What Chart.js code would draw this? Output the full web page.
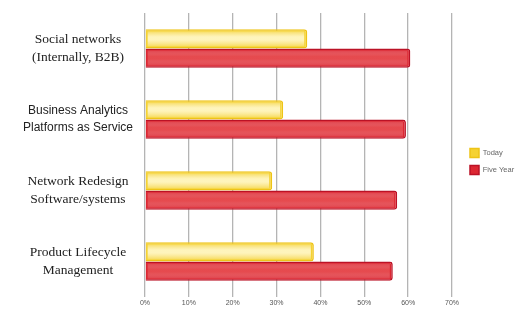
<!DOCTYPE html>
<html>
<head>
<meta charset="utf-8">
<script src="https://cdn.jsdelivr.net/npm/chart.js@4.4.1/dist/chart.umd.min.js"></script>
<style>
  html, body { margin: 0; padding: 0; background: #fff; }
  #wrap { width: 528px; height: 310px; }
</style>
</head>
<body>
<div id="wrap"><canvas id="myChart"></canvas></div>
<script>
// data
const categories = [
  ["Social networks", "(Internally, B2B)"],
  ["Business Analytics", "Platforms as Service"],
  ["Network Redesign", "Software/systems"],
  ["Product Lifecycle", "Management"],
];
const todayValues = [37, 31.5, 29, 38.5];
const fiveYearValues = [60.5, 59.5, 57.5, 56.5];
const xTicks = [0, 10, 20, 30, 40, 50, 60, 70];

// label fonts differ per row in the original
const labelFonts = ["Liberation Serif", "Liberation Sans", "Liberation Serif", "Liberation Serif"];

// glossy stripe on each bar
const glossPlugin = {
  id: "gloss",
  afterDatasetsDraw(chart) {
    const ctx = chart.ctx;
    chart.data.datasets.forEach((ds, di) => {
      const meta = chart.getDatasetMeta(di);
      meta.data.forEach((bar) => {
        const top = bar.y - bar.height / 2;
        const h = bar.height;
        const g = ctx.createLinearGradient(0, top, 0, top + h);
        g.addColorStop(0, "rgba(255,255,255,0)");
        g.addColorStop(0.4, ds.glossColor);
        g.addColorStop(0.55, ds.glossColor);
        g.addColorStop(1, "rgba(255,255,255,0)");
        ctx.save();
        ctx.fillStyle = g;
        ctx.fillRect(bar.base + 2, top + 2, bar.x - bar.base - 5, h - 4);
        ctx.restore();
      });
    });
  },
};

// legend box is wider than its items in the original (text runs off the edge)
const legendWidthPlugin = {
  id: "legendWidth",
  beforeLayout(chart) {
    const lg = chart.legend;
    if (lg && !lg._wide) {
      const fit = lg.fit;
      const draw = lg.draw;
      lg.fit = function () { fit.call(this); this.width = 76; };
      lg.draw = function () {
        chart.ctx.save();
        chart.ctx.translate(10, 0);
        draw.call(this);
        chart.ctx.restore();
      };
      lg._wide = true;
    }
  },
};

let myChart = document.getElementById("myChart").getContext("2d");

new Chart(myChart, {
  type: "bar",
  data: {
    labels: categories,
    datasets: [
      {
        label: "Today",
        data: todayValues,
        backgroundColor: "#f5d232",
        borderColor: "#eec417",
        glossColor: "rgba(255,246,195,0.95)",
        borderWidth: 1.5,
        borderRadius: 3,
        borderSkipped: "left",
        barPercentage: 1,
        categoryPercentage: 0.54,
      },
      {
        label: "Five Year",
        data: fiveYearValues,
        backgroundColor: "#dc2732",
        borderColor: "#bb1226",
        glossColor: "rgba(236,98,98,0.6)",
        borderWidth: 1.5,
        borderRadius: 3,
        borderSkipped: "left",
        barPercentage: 1,
        categoryPercentage: 0.54,
      },
    ],
  },
  options: {
    indexAxis: "y",
    responsive: true,
    maintainAspectRatio: false,
    animation: false,
    layout: { padding: { top: 13, right: 0, left: 0, bottom: 0 } },
    plugins: {
      legend: {
        position: "right",
        labels: {
          boxWidth: 9,
          boxHeight: 9,
          padding: 8,
          color: "#666",
          font: { family: "Liberation Sans", size: 7.5 },
        },
      },
      tooltip: { enabled: false },
    },
    scales: {
      x: {
        min: 0,
        max: 70,
        afterBuildTicks: (s) => { s.ticks = xTicks.map((v) => ({ value: v })); },
        afterFit: (s) => { s.height = 13; },
        ticks: {
          callback: (v) => v + "%",
          color: "#555",
          font: { family: "Liberation Sans", size: 7 },
          padding: 2,
        },
        grid: { color: "#b4b4b4", lineWidth: 1.3, tickLength: 0 },
        border: { display: false },
      },
      y: {
        afterFit: (s) => { s.width = 145; s.paddingTop = 0; s.paddingBottom = 0; },
        grid: { display: false },
        border: { display: false },
        ticks: {
          crossAlign: "center",
          color: "#222",
          padding: 4,
          font: (c) => ({ family: labelFonts[c.index] || "Liberation Serif", size: labelFonts[c.index] === "Liberation Sans" ? 12 : 13.5, lineHeight: 1.4 }),
        },
      },
    },
  },
  plugins: [glossPlugin, legendWidthPlugin],
});
</script>
</body>
</html>
